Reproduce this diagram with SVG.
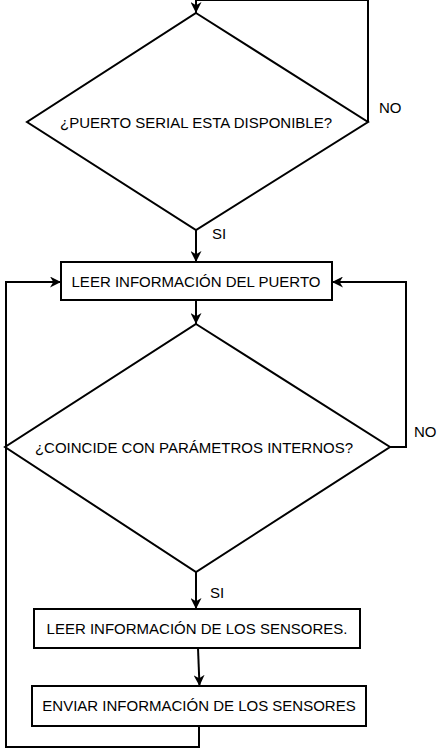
<svg xmlns="http://www.w3.org/2000/svg" width="438" height="751" viewBox="0 0 438 751">
<style>
.s{fill:#fff;stroke:#000;stroke-width:2}
.c{fill:none;stroke:#000;stroke-width:2}
text{font-family:"Liberation Sans",Arial,sans-serif;font-size:15px;fill:#000}
.m{text-anchor:middle}
</style>
<defs>
<marker id="a" viewBox="0 0 10 10" refX="10" refY="5" markerWidth="11" markerHeight="11" orient="auto" markerUnits="userSpaceOnUse">
<path d="M0,0 L10,5 L0,10 L3,5 Z" fill="#000"/>
</marker>
</defs>
<rect width="438" height="751" fill="#fff"/>
<g id="d1">
<polygon class="s" points="196,13 368,122 196,230 27,122"/>
<text class="m" x="196" y="128">¿PUERTO SERIAL ESTA DISPONIBLE?</text>
</g>
<g id="r1">
<rect class="s" x="61" y="262" width="271" height="38"/>
<text class="m" x="196" y="287">LEER INFORMACIÓN DEL PUERTO</text>
</g>
<g id="d2">
<polygon class="s" points="196,324 390,447 196,572 5,447"/>
<text class="m" x="194" y="453">¿COINCIDE CON PARÁMETROS INTERNOS?</text>
</g>
<g id="r2">
<rect class="s" x="34" y="609" width="326" height="39"/>
<text class="m" x="197" y="634">LEER INFORMACIÓN DE LOS SENSORES.</text>
</g>
<g id="r3">
<rect class="s" x="32" y="686" width="334" height="40"/>
<text class="m" x="199" y="711">ENVIAR INFORMACIÓN DE LOS SENSORES</text>
</g>
<g id="connectors">
<path class="c" d="M368,122 L368,0 L196,0 L196,13" marker-end="url(#a)"/>
<path class="c" d="M196,230 L196,262" marker-end="url(#a)"/>
<path class="c" d="M196,300 L196,324" marker-end="url(#a)"/>
<path class="c" d="M390,447 L406,447 L406,282 L332,282" marker-end="url(#a)"/>
<path class="c" d="M196,572 L196,609" marker-end="url(#a)"/>
<path class="c" d="M198,648 L199.5,686" marker-end="url(#a)"/>
<path class="c" d="M199,726 L199,747 L6,747 L6,282 L61,282" marker-end="url(#a)"/>
<text x="212" y="239">SI</text>
<text x="379" y="113">NO</text>
<text x="414" y="437">NO</text>
<text x="210" y="598">SI</text>
</g>
</svg>
